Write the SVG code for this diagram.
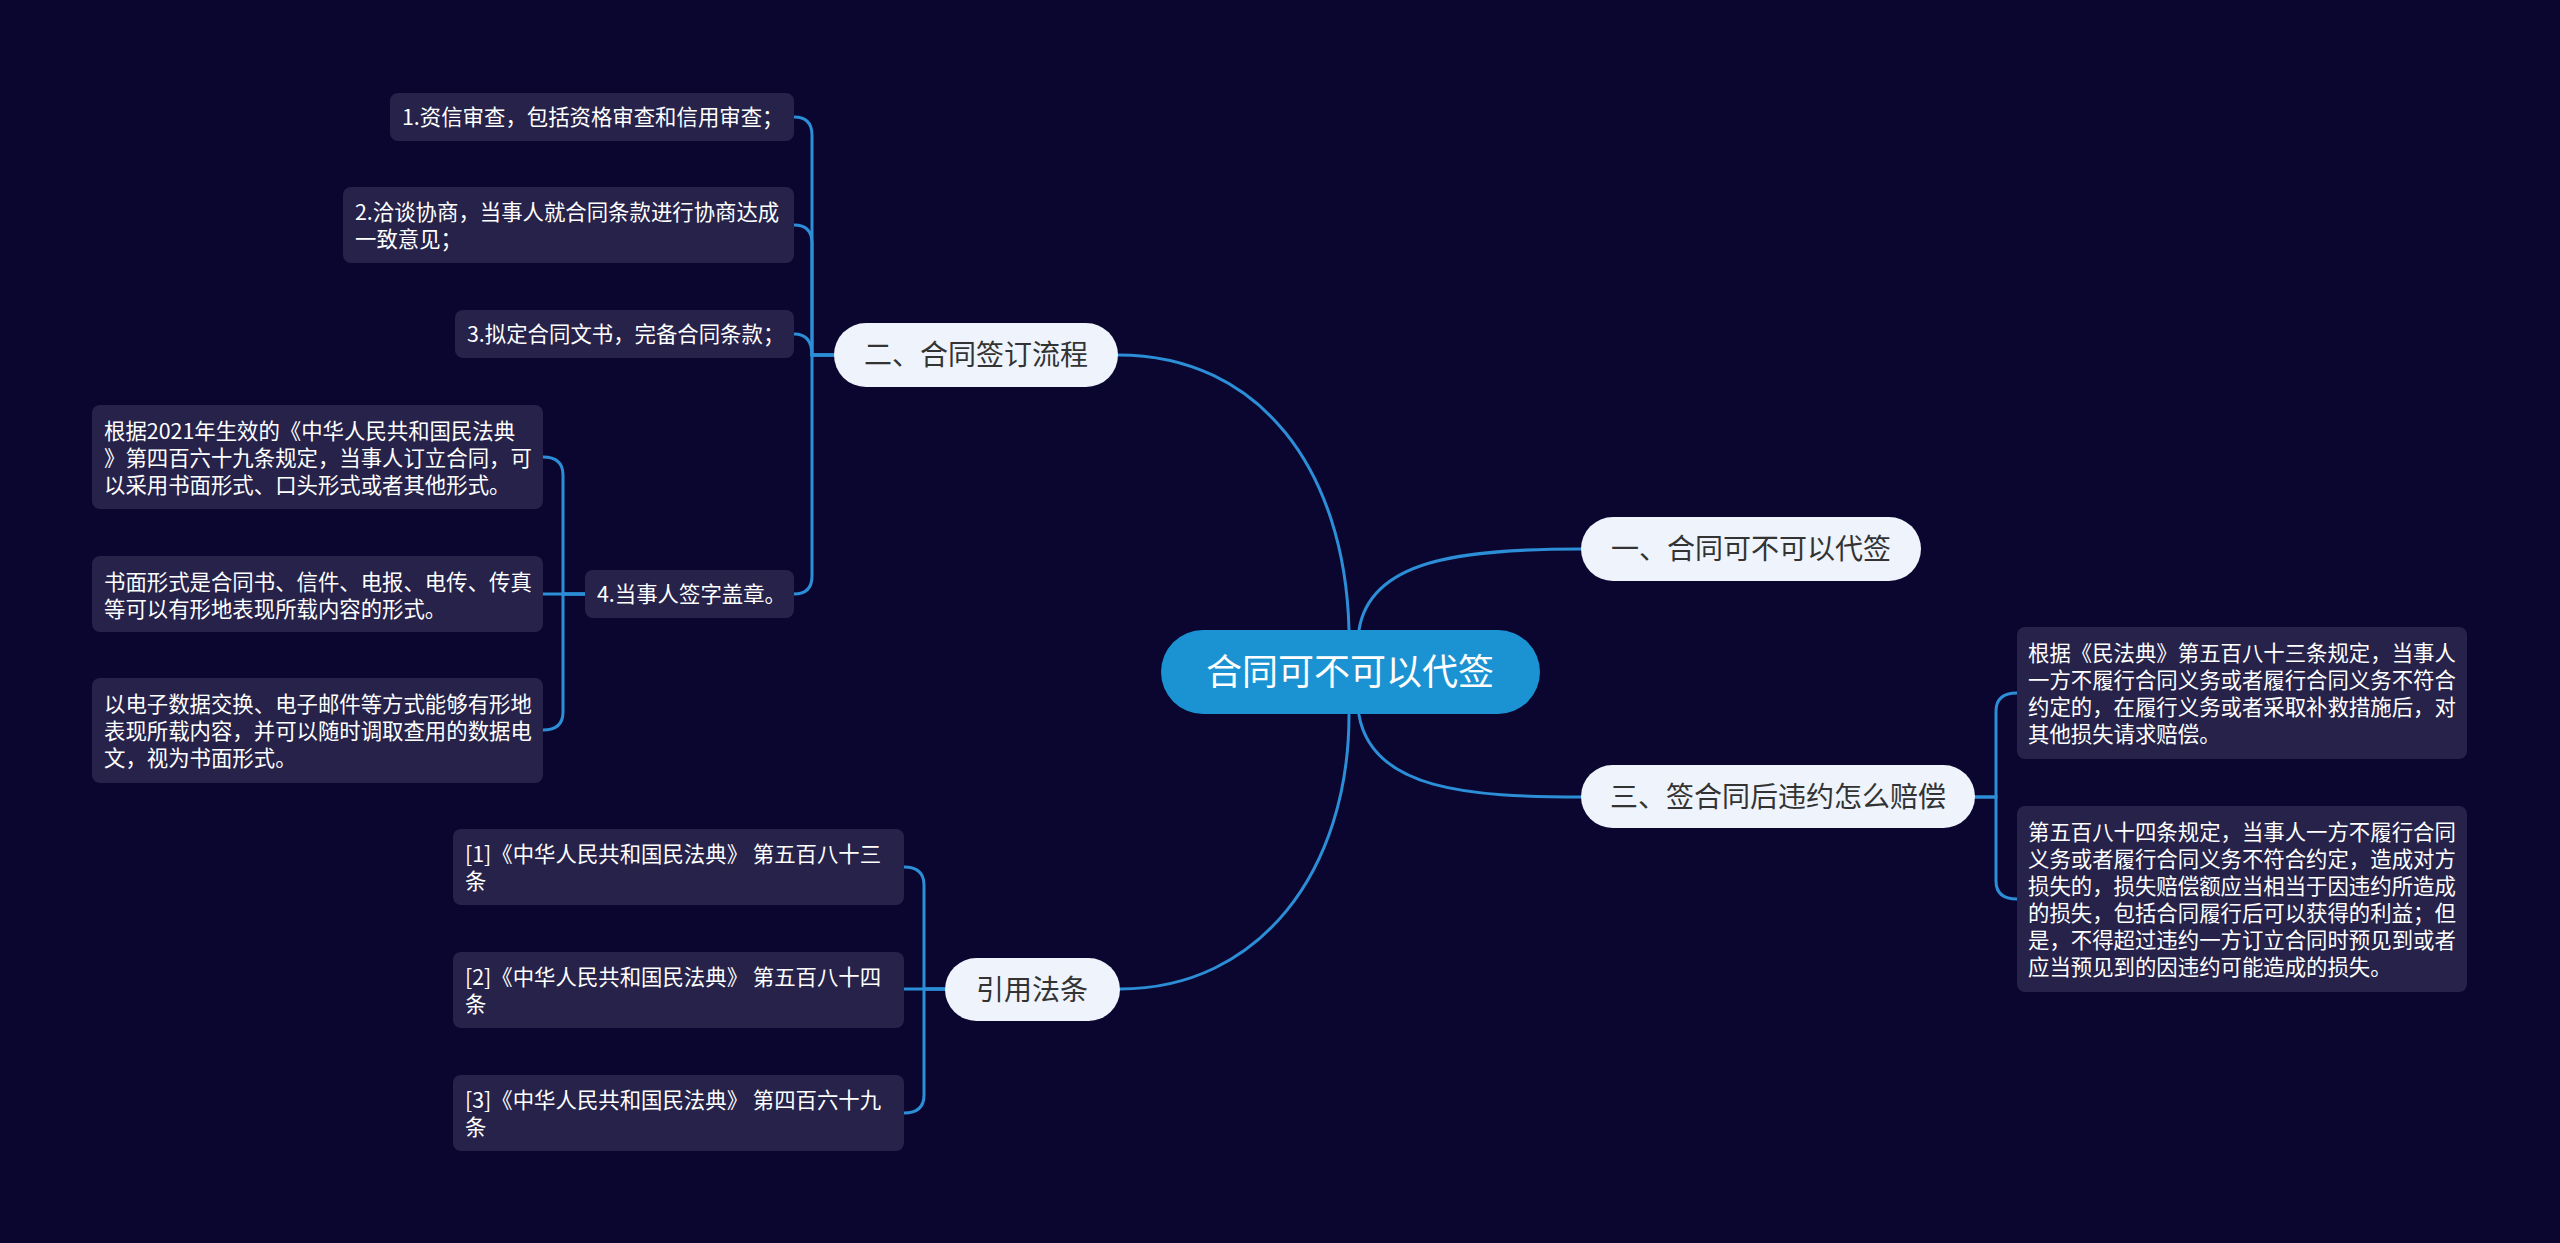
<svg xmlns="http://www.w3.org/2000/svg" width="2560" height="1243" viewBox="0 0 2560 1243">
<style>
text{font-family:"Noto Sans CJK SC","Noto Sans",sans-serif;}
.bg{fill:#0b0630;}
.link{fill:none;stroke:#2b8ed6;stroke-width:3;stroke-linecap:round;}
.root{fill:#1b93d3;}
.rootT{fill:#ffffff;font-size:36px;text-anchor:middle;}
.l1{fill:#eef3fc;}
.l1T{fill:#333333;font-size:28px;text-anchor:middle;}
.box{fill:#26224a;}
.bT{fill:#ffffff;font-size:21.4px;}
</style>
<rect class="bg" x="0" y="0" width="2560" height="1243"/>
<g id="connectors">
<path class="link" d="M1349 630 C1345 470 1260 355 1118 355"/>
<path class="link" d="M1359 630 C1370 560 1460 549 1581 549"/>
<path class="link" d="M1359 715 C1372 790 1470 797 1581 797"/>
<path class="link" d="M1349 715 C1349 870 1260 989 1120 989"/>
<path class="link" d="M834 355 H812 V135 Q812 117 794 117"/>
<path class="link" d="M834 355 H812 V243 Q812 225 794 225"/>
<path class="link" d="M834 355 H812 Q812 334 794 334"/>
<path class="link" d="M834 355 H812 V576 Q812 594 794 594"/>
<path class="link" d="M585 594 H563 V475 Q563 457 543 457"/>
<path class="link" d="M585 594 H543"/>
<path class="link" d="M585 594 H563 V712 Q563 730 543 730"/>
<path class="link" d="M1975 797 H1996 V711 Q1996 693 2017 693"/>
<path class="link" d="M1975 797 H1996 V881 Q1996 899 2017 899"/>
<path class="link" d="M945 989 H924 V885 Q924 867 904 867"/>
<path class="link" d="M945 989 H904"/>
<path class="link" d="M945 989 H924 V1095 Q924 1113 904 1113"/>
</g>
<g id="root">
<rect class="root" x="1161" y="630" width="379" height="84" rx="42"/>
<text class="rootT" x="1350" y="685">合同可不可以代签</text>
</g>
<g id="n1">
<rect class="l1" x="1581" y="517" width="340" height="64" rx="32"/>
<text class="l1T" x="1751" y="559">一、合同可不可以代签</text>
</g>
<g id="n2">
<rect class="l1" x="834" y="323" width="284" height="64" rx="32"/>
<text class="l1T" x="976" y="365">二、合同签订流程</text>
</g>
<g id="n3">
<rect class="l1" x="1581" y="765" width="394" height="63" rx="31.5"/>
<text class="l1T" x="1778" y="807">三、签合同后违约怎么赔偿</text>
</g>
<g id="n4">
<rect class="l1" x="945" y="958" width="175" height="63" rx="31.5"/>
<text class="l1T" x="1032" y="1000">引用法条</text>
</g>
<g id="n2-1">
<rect class="box" x="390" y="93" width="404" height="48" rx="8"/>
<text class="bT" x="402" y="125">1.资信审查，包括资格审查和信用审查；</text>
</g>
<g id="n2-2">
<rect class="box" x="343" y="187" width="451" height="76" rx="8"/>
<text class="bT" x="355" y="220">2.洽谈协商，当事人就合同条款进行协商达成</text>
<text class="bT" x="355" y="247">一致意见；</text>
</g>
<g id="n2-3">
<rect class="box" x="455" y="310" width="339" height="48" rx="8"/>
<text class="bT" x="467" y="342">3.拟定合同文书，完备合同条款；</text>
</g>
<g id="n2-4">
<rect class="box" x="585" y="570" width="209" height="48" rx="8"/>
<text class="bT" x="597" y="602">4.当事人签字盖章。</text>
</g>
<g id="n2-4-1">
<rect class="box" x="92" y="405" width="451" height="104" rx="8"/>
<text class="bT" x="104" y="439">根据2021年生效的《中华人民共和国民法典</text>
<text class="bT" x="104" y="466">》第四百六十九条规定，当事人订立合同，可</text>
<text class="bT" x="104" y="493">以采用书面形式、口头形式或者其他形式。</text>
</g>
<g id="n2-4-2">
<rect class="box" x="92" y="556" width="451" height="76" rx="8"/>
<text class="bT" x="104" y="590">书面形式是合同书、信件、电报、电传、传真</text>
<text class="bT" x="104" y="617">等可以有形地表现所载内容的形式。</text>
</g>
<g id="n2-4-3">
<rect class="box" x="92" y="678" width="451" height="105" rx="8"/>
<text class="bT" x="104" y="712">以电子数据交换、电子邮件等方式能够有形地</text>
<text class="bT" x="104" y="739">表现所载内容，并可以随时调取查用的数据电</text>
<text class="bT" x="104" y="766">文，视为书面形式。</text>
</g>
<g id="n3-1">
<rect class="box" x="2017" y="627" width="450" height="132" rx="8"/>
<text class="bT" x="2028" y="661">根据《民法典》第五百八十三条规定，当事人</text>
<text class="bT" x="2028" y="688">一方不履行合同义务或者履行合同义务不符合</text>
<text class="bT" x="2028" y="715">约定的，在履行义务或者采取补救措施后，对</text>
<text class="bT" x="2028" y="742">其他损失请求赔偿。</text>
</g>
<g id="n3-2">
<rect class="box" x="2017" y="806" width="450" height="186" rx="8"/>
<text class="bT" x="2028" y="840">第五百八十四条规定，当事人一方不履行合同</text>
<text class="bT" x="2028" y="867">义务或者履行合同义务不符合约定，造成对方</text>
<text class="bT" x="2028" y="894">损失的，损失赔偿额应当相当于因违约所造成</text>
<text class="bT" x="2028" y="921">的损失，包括合同履行后可以获得的利益；但</text>
<text class="bT" x="2028" y="948">是，不得超过违约一方订立合同时预见到或者</text>
<text class="bT" x="2028" y="975">应当预见到的因违约可能造成的损失。</text>
</g>
<g id="n4-1">
<rect class="box" x="453" y="829" width="451" height="76" rx="8"/>
<text class="bT" x="465" y="862">[1]《中华人民共和国民法典》 第五百八十三</text>
<text class="bT" x="465" y="889">条</text>
</g>
<g id="n4-2">
<rect class="box" x="453" y="952" width="451" height="76" rx="8"/>
<text class="bT" x="465" y="985">[2]《中华人民共和国民法典》 第五百八十四</text>
<text class="bT" x="465" y="1012">条</text>
</g>
<g id="n4-3">
<rect class="box" x="453" y="1075" width="451" height="76" rx="8"/>
<text class="bT" x="465" y="1108">[3]《中华人民共和国民法典》 第四百六十九</text>
<text class="bT" x="465" y="1135">条</text>
</g>
</svg>
